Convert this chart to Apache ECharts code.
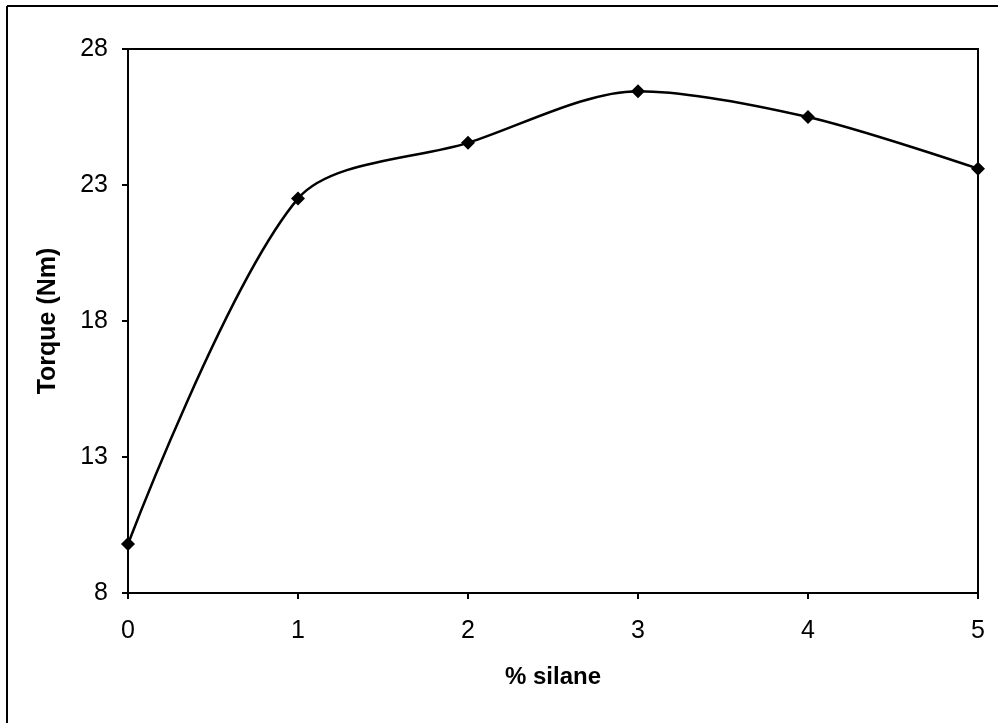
<!DOCTYPE html>
<html>
<head>
<meta charset="utf-8">
<script src="https://cdn.jsdelivr.net/npm/echarts@6/dist/echarts.min.js"></script>
<style>
html,body{margin:0;padding:0;background:#fff;}
#chart{width:998px;height:723px;}
</style>
</head>
<body>
<div id="chart"></div>
<script>
const silane = [0, 1, 2, 3, 4, 5];
const torque = [9.8, 22.5, 24.55, 26.45, 25.5, 23.6];
const yTicks = [8, 13, 18, 23, 28];
const xTitle = '% silane';
const yTitle = 'Torque (Nm)';

const chart = echarts.init(document.getElementById('chart'), null, {renderer: 'canvas'});
const font = '"Liberation Sans", Arial, sans-serif';
chart.setOption({
  animation: false,
  backgroundColor: '#fff',
  graphic: [
    {type: 'line', shape: {x1: 7, y1: 6, x2: 1000, y2: 6}, style: {stroke: '#000', lineWidth: 2}},
    {type: 'line', shape: {x1: 7, y1: 6, x2: 7, y2: 725}, style: {stroke: '#000', lineWidth: 2}}
  ],
  grid: {left: 128, top: 49, right: 20, bottom: 130, show: true, borderColor: '#000', borderWidth: 2, backgroundColor: 'transparent'},
  xAxis: {
    type: 'value', min: 0, max: 5, interval: 1,
    name: xTitle, nameLocation: 'middle', nameGap: 72,
    nameTextStyle: {fontFamily: font, fontSize: 24, fontWeight: 'bold', color: '#000'},
    axisLine: {lineStyle: {color: '#000', width: 2}},
    axisTick: {show: true, length: 6, lineStyle: {color: '#000', width: 2}},
    axisLabel: {fontFamily: font, fontSize: 25, color: '#000', margin: 26},
    splitLine: {show: false}
  },
  yAxis: {
    type: 'value', min: yTicks[0], max: yTicks[yTicks.length - 1], interval: 5,
    name: yTitle, nameLocation: 'middle', nameGap: 67, nameRotate: 90,
    nameTextStyle: {fontFamily: font, fontSize: 25, fontWeight: 'bold', color: '#000'},
    axisLine: {lineStyle: {color: '#000', width: 2}},
    axisTick: {show: true, length: 6, lineStyle: {color: '#000', width: 2}},
    axisLabel: {fontFamily: font, fontSize: 25, color: '#000', margin: 20},
    splitLine: {show: false}
  },
  series: [{
    type: 'line',
    data: silane.map((x, i) => [x, torque[i]]),
    smooth: 0.3,
    symbol: 'diamond', symbolSize: 14,
    itemStyle: {color: '#000'},
    lineStyle: {color: '#000', width: 2.5},
    clip: false
  }]
});
</script>
</body>
</html>
